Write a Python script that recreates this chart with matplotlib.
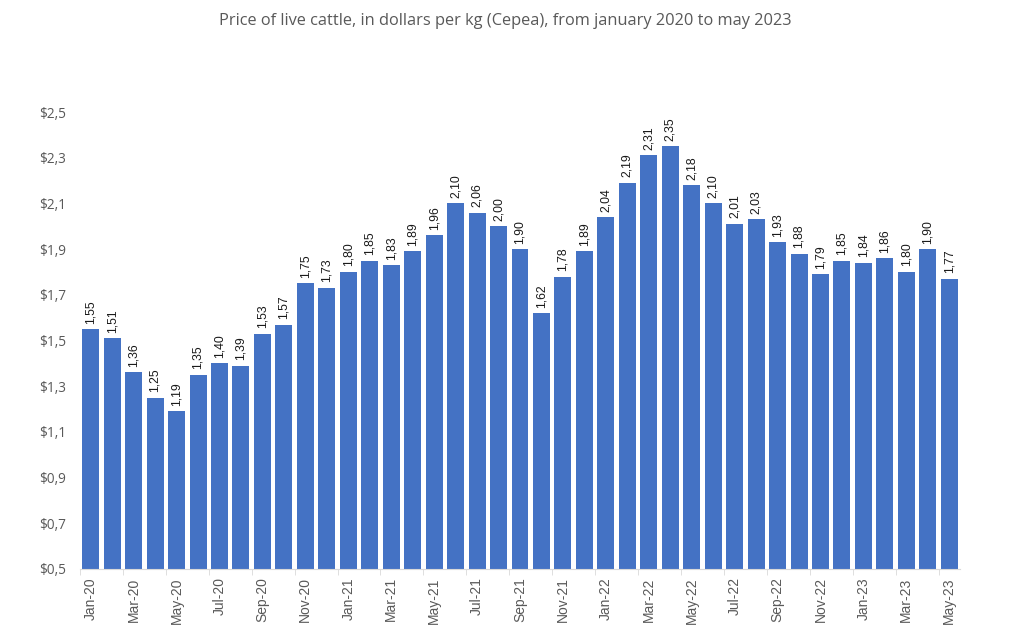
import matplotlib
matplotlib.use("Agg")
import matplotlib.pyplot as plt
import numpy as np

months = ["Jan-20","Feb-20","Mar-20","Apr-20","May-20","Jun-20","Jul-20","Aug-20","Sep-20","Oct-20","Nov-20","Dec-20",
          "Jan-21","Feb-21","Mar-21","Apr-21","May-21","Jun-21","Jul-21","Aug-21","Sep-21","Oct-21","Nov-21","Dec-21",
          "Jan-22","Feb-22","Mar-22","Apr-22","May-22","Jun-22","Jul-22","Aug-22","Sep-22","Oct-22","Nov-22","Dec-22",
          "Jan-23","Feb-23","Mar-23","Apr-23","May-23"]
prices = [1.55,1.51,1.36,1.25,1.19,1.35,1.40,1.39,1.53,1.57,1.75,1.73,
          1.80,1.85,1.83,1.89,1.96,2.10,2.06,2.00,1.90,1.62,1.78,1.89,
          2.04,2.19,2.31,2.35,2.18,2.10,2.01,2.03,1.93,1.88,1.79,1.85,
          1.84,1.86,1.80,1.90,1.77]
yticks = [0.5,0.7,0.9,1.1,1.3,1.5,1.7,1.9,2.1,2.3,2.5]

plt.rcParams['font.family'] = ['Open Sans', 'DejaVu Sans']

fig = plt.figure(figsize=(10.11, 6.30), dpi=100)
ax = fig.add_axes([80/1011, 61/630, 880/1011, 457/630])

x = np.arange(len(prices))
bottom = 0.5
ax.bar(x, np.array(prices) - bottom, bottom=bottom, width=0.79, color="#4472C4")

for xi, v in zip(x, prices):
    ax.annotate(f"{v:.2f}".replace(".", ","), (xi, v), xytext=(0, 4), textcoords="offset points",
                rotation=90, ha="center", va="bottom", fontsize=8.8, color="#1a1a1a",
                family=["Liberation Sans", "DejaVu Sans"])

ax.set_xlim(-0.5, len(prices) - 0.5)
ax.set_ylim(0.5, 2.5)
ax.set_yticks(yticks)
ax.set_yticklabels([f"${t:.1f}".replace(".", ",") for t in yticks])
ax.tick_params(axis="y", length=0, labelsize=9.8, labelcolor="#595959", pad=10)

ax.set_xticks(x[::2])
ax.set_xticklabels(months[::2], rotation=90, family=["Liberation Sans", "DejaVu Sans"])
ax.set_xticks(np.arange(-0.5, len(prices), 2), minor=True)
ax.tick_params(axis="x", which="major", length=0, labelsize=10, labelcolor="#595959", pad=6)
ax.tick_params(axis="x", which="minor", length=4, color="#d9d9d9")

for s in ["top", "right", "left"]:
    ax.spines[s].set_visible(False)
ax.spines["bottom"].set_color("#d9d9d9")

fig.text(0.5, 1 - 21/630, "Price of live cattle, in dollars per kg (Cepea), from january 2020 to may 2023",
         ha="center", va="center", fontsize=11.8, color="#595959")

fig.savefig("out.png", dpi=100)
